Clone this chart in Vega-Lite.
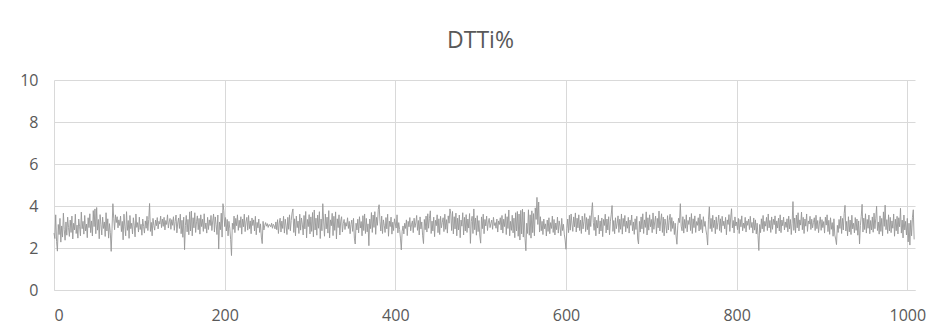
{"$schema":"https://vega.github.io/schema/vega-lite/v6.json","width":861,"height":210,"autosize":{"type":"none"},"padding":{"left":54,"top":80,"right":30,"bottom":44},"background":"white","title":{"text":"DTTi%","font":"Open Sans","fontSize":23,"fontWeight":"normal","color":"#595959","anchor":"middle","frame":"group","baseline":"alphabetic","offset":1,"dx":-4},"config":{"view":{"stroke":null}},"data":{"values":[
{"x":0,"y":2.71},{"x":1,"y":2.45},{"x":2,"y":3.58},{"x":3,"y":2.31},{"x":4,"y":1.85},{"x":5,"y":3.12},{"x":6,"y":2.64},{"x":7,"y":3.41},{"x":8,"y":2.28},{"x":9,"y":3.05},{"x":10,"y":2.52},{"x":11,"y":3.66},{"x":12,"y":2.89},{"x":13,"y":2.37},{"x":14,"y":3.24},{"x":15,"y":2.61},{"x":16,"y":3.47},{"x":17,"y":2.98},{"x":18,"y":2.55},{"x":19,"y":3.33},
{"x":20,"y":2.74},{"x":21,"y":3.52},{"x":22,"y":2.43},{"x":23,"y":3.18},{"x":24,"y":2.86},{"x":25,"y":3.61},{"x":26,"y":2.69},{"x":27,"y":3.09},{"x":28,"y":2.47},{"x":29,"y":3.38},{"x":30,"y":3.01},{"x":31,"y":2.58},{"x":32,"y":3.71},{"x":33,"y":2.92},{"x":34,"y":3.27},{"x":35,"y":2.66},{"x":36,"y":3.55},{"x":37,"y":2.81},{"x":38,"y":3.14},{"x":39,"y":2.49},
{"x":40,"y":3.44},{"x":41,"y":2.97},{"x":42,"y":3.63},{"x":43,"y":2.73},{"x":44,"y":3.29},{"x":45,"y":2.57},{"x":46,"y":3.78},{"x":47,"y":3.02},{"x":48,"y":3.86},{"x":49,"y":2.68},{"x":50,"y":3.93},{"x":51,"y":2.85},{"x":52,"y":3.36},{"x":53,"y":2.44},{"x":54,"y":3.59},{"x":55,"y":3.11},{"x":56,"y":2.62},{"x":57,"y":3.47},{"x":58,"y":2.93},{"x":59,"y":3.24},
{"x":60,"y":2.55},{"x":61,"y":3.68},{"x":62,"y":2.81},{"x":63,"y":3.39},{"x":64,"y":2.47},{"x":65,"y":3.16},{"x":66,"y":2.73},{"x":67,"y":1.84},{"x":68,"y":2.91},{"x":69,"y":4.11},{"x":70,"y":3.42},{"x":71,"y":2.87},{"x":72,"y":3.58},{"x":73,"y":3.21},{"x":74,"y":3.49},{"x":75,"y":2.96},{"x":76,"y":3.34},{"x":77,"y":3.07},{"x":78,"y":3.52},{"x":79,"y":2.78},
{"x":80,"y":3.27},{"x":81,"y":2.39},{"x":82,"y":3.61},{"x":83,"y":3.04},{"x":84,"y":2.58},{"x":85,"y":3.73},{"x":86,"y":2.84},{"x":87,"y":3.31},{"x":88,"y":2.46},{"x":89,"y":3.55},{"x":90,"y":2.92},{"x":91,"y":3.18},{"x":92,"y":2.67},{"x":93,"y":3.44},{"x":94,"y":3.09},{"x":95,"y":2.53},{"x":96,"y":3.62},{"x":97,"y":2.98},{"x":98,"y":3.21},{"x":99,"y":2.76},
{"x":100,"y":3.47},{"x":101,"y":2.88},{"x":102,"y":3.13},{"x":103,"y":2.61},{"x":104,"y":3.38},{"x":105,"y":3.02},{"x":106,"y":2.71},{"x":107,"y":3.29},{"x":108,"y":2.94},{"x":109,"y":3.51},{"x":110,"y":2.83},{"x":111,"y":3.36},{"x":112,"y":4.12},{"x":113,"y":2.79},{"x":114,"y":3.22},{"x":115,"y":2.58},{"x":116,"y":3.41},{"x":117,"y":3.07},{"x":118,"y":2.85},{"x":119,"y":3.33},
{"x":120,"y":3.06},{"x":121,"y":3.45},{"x":122,"y":2.91},{"x":123,"y":3.27},{"x":124,"y":3.14},{"x":125,"y":3.52},{"x":126,"y":2.97},{"x":127,"y":3.38},{"x":128,"y":3.03},{"x":129,"y":3.46},{"x":130,"y":2.86},{"x":131,"y":3.31},{"x":132,"y":3.12},{"x":133,"y":3.58},{"x":134,"y":2.95},{"x":135,"y":3.24},{"x":136,"y":3.41},{"x":137,"y":2.89},{"x":138,"y":3.35},{"x":139,"y":3.08},
{"x":140,"y":3.49},{"x":141,"y":2.84},{"x":142,"y":3.26},{"x":143,"y":3.57},{"x":144,"y":2.72},{"x":145,"y":3.19},{"x":146,"y":3.43},{"x":147,"y":2.93},{"x":148,"y":3.61},{"x":149,"y":2.68},{"x":150,"y":3.32},{"x":151,"y":2.51},{"x":152,"y":3.47},{"x":153,"y":1.92},{"x":154,"y":3.08},{"x":155,"y":3.55},{"x":156,"y":2.77},{"x":157,"y":3.36},{"x":158,"y":2.63},{"x":159,"y":3.72},
{"x":160,"y":2.81},{"x":161,"y":3.76},{"x":162,"y":2.58},{"x":163,"y":3.44},{"x":164,"y":2.96},{"x":165,"y":3.68},{"x":166,"y":2.74},{"x":167,"y":3.25},{"x":168,"y":3.53},{"x":169,"y":2.87},{"x":170,"y":3.41},{"x":171,"y":2.66},{"x":172,"y":3.58},{"x":173,"y":3.02},{"x":174,"y":3.37},{"x":175,"y":2.79},{"x":176,"y":3.63},{"x":177,"y":2.92},{"x":178,"y":3.19},{"x":179,"y":2.71},
{"x":180,"y":3.46},{"x":181,"y":2.88},{"x":182,"y":3.34},{"x":183,"y":3.07},{"x":184,"y":3.55},{"x":185,"y":2.83},{"x":186,"y":3.29},{"x":187,"y":3.62},{"x":188,"y":2.76},{"x":189,"y":3.48},{"x":190,"y":3.11},{"x":191,"y":2.64},{"x":192,"y":3.57},{"x":193,"y":1.95},{"x":194,"y":3.24},{"x":195,"y":2.87},{"x":196,"y":3.66},{"x":197,"y":2.52},{"x":198,"y":4.11},{"x":199,"y":3.78},
{"x":200,"y":3.02},{"x":201,"y":3.45},{"x":202,"y":2.81},{"x":203,"y":3.36},{"x":204,"y":2.58},{"x":205,"y":3.27},{"x":206,"y":2.94},{"x":207,"y":2.41},{"x":208,"y":1.64},{"x":209,"y":3.18},{"x":210,"y":2.89},{"x":211,"y":3.52},{"x":212,"y":2.73},{"x":213,"y":3.41},{"x":214,"y":3.06},{"x":215,"y":3.58},{"x":216,"y":2.84},{"x":217,"y":3.32},{"x":218,"y":2.97},{"x":219,"y":3.49},
{"x":220,"y":2.66},{"x":221,"y":3.38},{"x":222,"y":3.01},{"x":223,"y":3.61},{"x":224,"y":2.78},{"x":225,"y":3.24},{"x":226,"y":3.46},{"x":227,"y":2.85},{"x":228,"y":3.55},{"x":229,"y":2.92},{"x":230,"y":3.29},{"x":231,"y":2.68},{"x":232,"y":3.43},{"x":233,"y":3.07},{"x":234,"y":3.34},{"x":235,"y":2.81},{"x":236,"y":3.51},{"x":237,"y":2.63},{"x":238,"y":3.22},{"x":239,"y":2.96},
{"x":240,"y":3.38},{"x":241,"y":2.74},{"x":242,"y":3.15},{"x":243,"y":2.52},{"x":244,"y":2.21},{"x":245,"y":3.27},{"x":246,"y":2.86},{"x":247,"y":3.08},{"x":248,"y":3.21},{"x":249,"y":3.04},{"x":250,"y":3.16},{"x":251,"y":2.98},{"x":252,"y":3.12},{"x":253,"y":3.09},{"x":254,"y":3.01},{"x":255,"y":3.18},{"x":256,"y":2.94},{"x":257,"y":3.13},{"x":258,"y":3.06},{"x":259,"y":2.91},
{"x":260,"y":3.24},{"x":261,"y":2.87},{"x":262,"y":3.35},{"x":263,"y":2.69},{"x":264,"y":3.19},{"x":265,"y":3.42},{"x":266,"y":2.76},{"x":267,"y":3.28},{"x":268,"y":2.93},{"x":269,"y":3.51},{"x":270,"y":2.71},{"x":271,"y":3.37},{"x":272,"y":3.05},{"x":273,"y":2.64},{"x":274,"y":3.46},{"x":275,"y":2.89},{"x":276,"y":3.58},{"x":277,"y":2.82},{"x":278,"y":3.31},{"x":279,"y":3.67},
{"x":280,"y":3.86},{"x":281,"y":2.74},{"x":282,"y":3.39},{"x":283,"y":2.58},{"x":284,"y":3.52},{"x":285,"y":2.97},{"x":286,"y":3.28},{"x":287,"y":2.69},{"x":288,"y":3.61},{"x":289,"y":2.85},{"x":290,"y":3.43},{"x":291,"y":3.14},{"x":292,"y":2.62},{"x":293,"y":3.55},{"x":294,"y":2.91},{"x":295,"y":3.74},{"x":296,"y":2.48},{"x":297,"y":3.36},{"x":298,"y":3.02},{"x":299,"y":3.59},
{"x":300,"y":2.67},{"x":301,"y":3.48},{"x":302,"y":2.79},{"x":303,"y":3.69},{"x":304,"y":2.53},{"x":305,"y":3.81},{"x":306,"y":2.86},{"x":307,"y":3.42},{"x":308,"y":2.61},{"x":309,"y":3.57},{"x":310,"y":2.94},{"x":311,"y":3.73},{"x":312,"y":2.45},{"x":313,"y":3.38},{"x":314,"y":2.82},{"x":315,"y":4.11},{"x":316,"y":3.24},{"x":317,"y":2.56},{"x":318,"y":3.62},{"x":319,"y":2.91},
{"x":320,"y":3.47},{"x":321,"y":2.71},{"x":322,"y":3.78},{"x":323,"y":2.48},{"x":324,"y":3.34},{"x":325,"y":3.06},{"x":326,"y":3.65},{"x":327,"y":2.59},{"x":328,"y":3.51},{"x":329,"y":2.84},{"x":330,"y":3.72},{"x":331,"y":2.43},{"x":332,"y":3.39},{"x":333,"y":2.97},{"x":334,"y":3.58},{"x":335,"y":2.62},{"x":336,"y":3.28},{"x":337,"y":3.49},{"x":338,"y":2.76},{"x":339,"y":3.17},
{"x":340,"y":3.36},{"x":341,"y":2.88},{"x":342,"y":3.21},{"x":343,"y":3.04},{"x":344,"y":3.44},{"x":345,"y":2.93},{"x":346,"y":3.27},{"x":347,"y":2.68},{"x":348,"y":3.12},{"x":349,"y":3.33},{"x":350,"y":2.79},{"x":351,"y":3.41},{"x":352,"y":2.47},{"x":353,"y":2.19},{"x":354,"y":3.18},{"x":355,"y":2.86},{"x":356,"y":3.37},{"x":357,"y":2.72},{"x":358,"y":3.49},{"x":359,"y":2.95},
{"x":360,"y":3.26},{"x":361,"y":2.58},{"x":362,"y":3.54},{"x":363,"y":2.83},{"x":364,"y":3.62},{"x":365,"y":2.69},{"x":366,"y":3.41},{"x":367,"y":2.77},{"x":368,"y":3.15},{"x":369,"y":2.11},{"x":370,"y":3.38},{"x":371,"y":2.92},{"x":372,"y":3.69},{"x":373,"y":2.74},{"x":374,"y":3.57},{"x":375,"y":2.98},{"x":376,"y":3.73},{"x":377,"y":2.65},{"x":378,"y":3.46},{"x":379,"y":3.08},
{"x":380,"y":3.84},{"x":381,"y":4.06},{"x":382,"y":3.27},{"x":383,"y":2.81},{"x":384,"y":3.52},{"x":385,"y":2.69},{"x":386,"y":3.34},{"x":387,"y":3.08},{"x":388,"y":2.74},{"x":389,"y":3.45},{"x":390,"y":2.91},{"x":391,"y":3.61},{"x":392,"y":2.56},{"x":393,"y":3.28},{"x":394,"y":3.02},{"x":395,"y":3.47},{"x":396,"y":2.66},{"x":397,"y":3.23},{"x":398,"y":2.83},{"x":399,"y":3.39},
{"x":400,"y":3.14},{"x":401,"y":2.95},{"x":402,"y":3.58},{"x":403,"y":2.72},{"x":404,"y":3.21},{"x":405,"y":2.88},{"x":406,"y":2.47},{"x":407,"y":1.91},{"x":408,"y":2.79},{"x":409,"y":3.05},{"x":410,"y":2.67},{"x":411,"y":3.18},{"x":412,"y":2.93},{"x":413,"y":3.34},{"x":414,"y":2.59},{"x":415,"y":3.27},{"x":416,"y":3.01},{"x":417,"y":3.45},{"x":418,"y":2.82},{"x":419,"y":3.13},
{"x":420,"y":3.29},{"x":421,"y":2.73},{"x":422,"y":3.42},{"x":423,"y":2.98},{"x":424,"y":3.19},{"x":425,"y":3.55},{"x":426,"y":2.84},{"x":427,"y":3.31},{"x":428,"y":2.62},{"x":429,"y":3.48},{"x":430,"y":2.91},{"x":431,"y":3.24},{"x":432,"y":2.58},{"x":433,"y":2.21},{"x":434,"y":3.36},{"x":435,"y":2.87},{"x":436,"y":3.52},{"x":437,"y":2.76},{"x":438,"y":3.63},{"x":439,"y":2.94},
{"x":440,"y":3.41},{"x":441,"y":3.77},{"x":442,"y":2.69},{"x":443,"y":3.28},{"x":444,"y":2.81},{"x":445,"y":3.47},{"x":446,"y":2.54},{"x":447,"y":3.32},{"x":448,"y":3.06},{"x":449,"y":3.58},{"x":450,"y":2.73},{"x":451,"y":3.39},{"x":452,"y":2.64},{"x":453,"y":3.51},{"x":454,"y":2.96},{"x":455,"y":3.22},{"x":456,"y":3.44},{"x":457,"y":2.78},{"x":458,"y":3.61},{"x":459,"y":2.89},
{"x":460,"y":3.35},{"x":461,"y":2.71},{"x":462,"y":3.53},{"x":463,"y":3.18},{"x":464,"y":3.86},{"x":465,"y":3.62},{"x":466,"y":2.83},{"x":467,"y":3.74},{"x":468,"y":2.67},{"x":469,"y":3.49},{"x":470,"y":2.91},{"x":471,"y":3.66},{"x":472,"y":2.58},{"x":473,"y":3.42},{"x":474,"y":2.86},{"x":475,"y":3.57},{"x":476,"y":2.49},{"x":477,"y":3.33},{"x":478,"y":3.04},{"x":479,"y":3.68},
{"x":480,"y":2.62},{"x":481,"y":3.46},{"x":482,"y":2.81},{"x":483,"y":3.59},{"x":484,"y":2.74},{"x":485,"y":3.38},{"x":486,"y":2.95},{"x":487,"y":3.64},{"x":488,"y":2.22},{"x":489,"y":3.27},{"x":490,"y":3.51},{"x":491,"y":2.69},{"x":492,"y":3.86},{"x":493,"y":2.87},{"x":494,"y":3.43},{"x":495,"y":2.61},{"x":496,"y":3.54},{"x":497,"y":2.78},{"x":498,"y":3.31},{"x":499,"y":2.57},
{"x":500,"y":2.23},{"x":501,"y":3.48},{"x":502,"y":2.92},{"x":503,"y":3.61},{"x":504,"y":2.68},{"x":505,"y":3.36},{"x":506,"y":3.05},{"x":507,"y":3.52},{"x":508,"y":2.83},{"x":509,"y":3.24},{"x":510,"y":3.41},{"x":511,"y":2.97},{"x":512,"y":3.18},{"x":513,"y":3.33},{"x":514,"y":2.89},{"x":515,"y":3.46},{"x":516,"y":3.07},{"x":517,"y":3.21},{"x":518,"y":2.94},{"x":519,"y":3.38},
{"x":520,"y":2.76},{"x":521,"y":3.29},{"x":522,"y":3.12},{"x":523,"y":3.44},{"x":524,"y":2.86},{"x":525,"y":3.55},{"x":526,"y":2.71},{"x":527,"y":3.37},{"x":528,"y":3.02},{"x":529,"y":3.63},{"x":530,"y":2.64},{"x":531,"y":3.49},{"x":532,"y":2.93},{"x":533,"y":3.81},{"x":534,"y":2.58},{"x":535,"y":3.27},{"x":536,"y":2.84},{"x":537,"y":3.56},{"x":538,"y":2.72},{"x":539,"y":3.42},
{"x":540,"y":2.49},{"x":541,"y":3.68},{"x":542,"y":2.81},{"x":543,"y":3.74},{"x":544,"y":2.56},{"x":545,"y":3.62},{"x":546,"y":2.38},{"x":547,"y":3.79},{"x":548,"y":2.67},{"x":549,"y":3.85},{"x":550,"y":2.52},{"x":551,"y":3.71},{"x":552,"y":2.44},{"x":553,"y":1.87},{"x":554,"y":3.18},{"x":555,"y":2.69},{"x":556,"y":3.82},{"x":557,"y":2.61},{"x":558,"y":3.58},{"x":559,"y":2.47},
{"x":560,"y":3.77},{"x":561,"y":2.73},{"x":562,"y":3.64},{"x":563,"y":2.58},{"x":564,"y":3.91},{"x":565,"y":3.36},{"x":566,"y":4.41},{"x":567,"y":3.12},{"x":568,"y":4.19},{"x":569,"y":2.76},{"x":570,"y":3.49},{"x":571,"y":2.82},{"x":572,"y":3.27},{"x":573,"y":2.64},{"x":574,"y":3.38},{"x":575,"y":2.91},{"x":576,"y":3.15},{"x":577,"y":2.57},{"x":578,"y":3.33},{"x":579,"y":2.79},
{"x":580,"y":3.44},{"x":581,"y":2.68},{"x":582,"y":3.21},{"x":583,"y":2.93},{"x":584,"y":3.52},{"x":585,"y":2.74},{"x":586,"y":3.36},{"x":587,"y":2.62},{"x":588,"y":3.19},{"x":589,"y":2.87},{"x":590,"y":3.47},{"x":591,"y":2.71},{"x":592,"y":3.29},{"x":593,"y":3.04},{"x":594,"y":2.58},{"x":595,"y":3.41},{"x":596,"y":2.83},{"x":597,"y":3.13},{"x":598,"y":2.66},{"x":599,"y":2.38},
{"x":600,"y":1.94},{"x":601,"y":2.92},{"x":602,"y":3.38},{"x":603,"y":2.73},{"x":604,"y":3.56},{"x":605,"y":2.85},{"x":606,"y":3.62},{"x":607,"y":3.14},{"x":608,"y":2.79},{"x":609,"y":3.48},{"x":610,"y":3.01},{"x":611,"y":3.67},{"x":612,"y":2.76},{"x":613,"y":3.42},{"x":614,"y":2.96},{"x":615,"y":3.58},{"x":616,"y":2.83},{"x":617,"y":3.33},{"x":618,"y":2.69},{"x":619,"y":3.52},
{"x":620,"y":2.91},{"x":621,"y":3.27},{"x":622,"y":3.64},{"x":623,"y":2.78},{"x":624,"y":3.45},{"x":625,"y":2.87},{"x":626,"y":3.39},{"x":627,"y":2.63},{"x":628,"y":3.54},{"x":629,"y":3.02},{"x":630,"y":3.71},{"x":631,"y":4.16},{"x":632,"y":3.21},{"x":633,"y":2.84},{"x":634,"y":3.47},{"x":635,"y":2.58},{"x":636,"y":3.32},{"x":637,"y":2.95},{"x":638,"y":3.56},{"x":639,"y":2.67},
{"x":640,"y":3.29},{"x":641,"y":2.81},{"x":642,"y":3.43},{"x":643,"y":2.54},{"x":644,"y":3.36},{"x":645,"y":3.07},{"x":646,"y":3.61},{"x":647,"y":2.72},{"x":648,"y":3.38},{"x":649,"y":2.86},{"x":650,"y":3.49},{"x":651,"y":2.63},{"x":652,"y":3.25},{"x":653,"y":3.58},{"x":654,"y":4.02},{"x":655,"y":2.79},{"x":656,"y":3.31},{"x":657,"y":2.68},{"x":658,"y":3.44},{"x":659,"y":2.92},
{"x":660,"y":3.18},{"x":661,"y":3.53},{"x":662,"y":2.74},{"x":663,"y":3.37},{"x":664,"y":2.89},{"x":665,"y":3.62},{"x":666,"y":2.66},{"x":667,"y":3.41},{"x":668,"y":3.03},{"x":669,"y":3.55},{"x":670,"y":2.77},{"x":671,"y":3.28},{"x":672,"y":2.94},{"x":673,"y":3.46},{"x":674,"y":2.71},{"x":675,"y":3.33},{"x":676,"y":3.08},{"x":677,"y":3.57},{"x":678,"y":2.82},{"x":679,"y":3.24},
{"x":680,"y":2.65},{"x":681,"y":3.39},{"x":682,"y":2.88},{"x":683,"y":3.51},{"x":684,"y":2.43},{"x":685,"y":2.19},{"x":686,"y":3.27},{"x":687,"y":2.76},{"x":688,"y":3.48},{"x":689,"y":2.91},{"x":690,"y":3.63},{"x":691,"y":2.69},{"x":692,"y":3.34},{"x":693,"y":2.98},{"x":694,"y":3.72},{"x":695,"y":2.62},{"x":696,"y":3.44},{"x":697,"y":2.85},{"x":698,"y":3.58},{"x":699,"y":3.01},
{"x":700,"y":3.36},{"x":701,"y":2.73},{"x":702,"y":3.67},{"x":703,"y":2.89},{"x":704,"y":3.24},{"x":705,"y":3.52},{"x":706,"y":2.67},{"x":707,"y":3.41},{"x":708,"y":2.96},{"x":709,"y":3.76},{"x":710,"y":2.81},{"x":711,"y":3.29},{"x":712,"y":3.63},{"x":713,"y":2.74},{"x":714,"y":3.47},{"x":715,"y":2.58},{"x":716,"y":3.38},{"x":717,"y":3.09},{"x":718,"y":2.71},{"x":719,"y":3.54},
{"x":720,"y":2.86},{"x":721,"y":3.32},{"x":722,"y":3.61},{"x":723,"y":2.79},{"x":724,"y":3.45},{"x":725,"y":2.93},{"x":726,"y":3.27},{"x":727,"y":2.64},{"x":728,"y":3.18},{"x":729,"y":2.57},{"x":730,"y":2.18},{"x":731,"y":3.06},{"x":732,"y":3.42},{"x":733,"y":3.21},{"x":734,"y":4.11},{"x":735,"y":3.04},{"x":736,"y":2.82},{"x":737,"y":3.49},{"x":738,"y":2.71},{"x":739,"y":3.36},
{"x":740,"y":2.94},{"x":741,"y":3.58},{"x":742,"y":2.77},{"x":743,"y":3.31},{"x":744,"y":3.12},{"x":745,"y":3.47},{"x":746,"y":2.83},{"x":747,"y":3.64},{"x":748,"y":2.69},{"x":749,"y":3.39},{"x":750,"y":2.97},{"x":751,"y":3.53},{"x":752,"y":2.74},{"x":753,"y":3.26},{"x":754,"y":3.08},{"x":755,"y":3.44},{"x":756,"y":2.81},{"x":757,"y":3.62},{"x":758,"y":2.88},{"x":759,"y":3.35},
{"x":760,"y":2.72},{"x":761,"y":3.49},{"x":762,"y":3.03},{"x":763,"y":3.27},{"x":764,"y":2.86},{"x":765,"y":2.61},{"x":766,"y":2.14},{"x":767,"y":3.37},{"x":768,"y":3.96},{"x":769,"y":2.92},{"x":770,"y":3.41},{"x":771,"y":2.78},{"x":772,"y":3.56},{"x":773,"y":2.97},{"x":774,"y":3.33},{"x":775,"y":2.68},{"x":776,"y":3.48},{"x":777,"y":2.89},{"x":778,"y":3.22},{"x":779,"y":3.57},
{"x":780,"y":2.83},{"x":781,"y":3.39},{"x":782,"y":2.74},{"x":783,"y":3.51},{"x":784,"y":3.06},{"x":785,"y":3.28},{"x":786,"y":2.91},{"x":787,"y":3.46},{"x":788,"y":2.63},{"x":789,"y":3.34},{"x":790,"y":3.12},{"x":791,"y":3.59},{"x":792,"y":2.79},{"x":793,"y":3.43},{"x":794,"y":3.87},{"x":795,"y":2.96},{"x":796,"y":3.31},{"x":797,"y":2.72},{"x":798,"y":3.48},{"x":799,"y":3.05},
{"x":800,"y":3.24},{"x":801,"y":2.87},{"x":802,"y":3.41},{"x":803,"y":2.69},{"x":804,"y":3.36},{"x":805,"y":3.01},{"x":806,"y":3.53},{"x":807,"y":2.82},{"x":808,"y":3.19},{"x":809,"y":2.94},{"x":810,"y":3.46},{"x":811,"y":2.76},{"x":812,"y":3.29},{"x":813,"y":3.08},{"x":814,"y":3.38},{"x":815,"y":2.88},{"x":816,"y":3.51},{"x":817,"y":2.97},{"x":818,"y":3.22},{"x":819,"y":2.71},
{"x":820,"y":3.43},{"x":821,"y":2.85},{"x":822,"y":3.34},{"x":823,"y":2.67},{"x":824,"y":3.18},{"x":825,"y":2.59},{"x":826,"y":1.88},{"x":827,"y":3.12},{"x":828,"y":2.73},{"x":829,"y":3.39},{"x":830,"y":2.91},{"x":831,"y":3.55},{"x":832,"y":2.78},{"x":833,"y":3.27},{"x":834,"y":3.04},{"x":835,"y":3.46},{"x":836,"y":2.83},{"x":837,"y":3.62},{"x":838,"y":2.96},{"x":839,"y":3.31},
{"x":840,"y":2.74},{"x":841,"y":3.48},{"x":842,"y":2.89},{"x":843,"y":3.37},{"x":844,"y":3.11},{"x":845,"y":3.53},{"x":846,"y":2.68},{"x":847,"y":3.29},{"x":848,"y":2.95},{"x":849,"y":3.42},{"x":850,"y":2.81},{"x":851,"y":3.58},{"x":852,"y":2.73},{"x":853,"y":3.33},{"x":854,"y":3.06},{"x":855,"y":3.47},{"x":856,"y":2.86},{"x":857,"y":3.24},{"x":858,"y":2.98},{"x":859,"y":3.39},
{"x":860,"y":2.77},{"x":861,"y":3.52},{"x":862,"y":2.91},{"x":863,"y":3.36},{"x":864,"y":2.64},{"x":865,"y":3.18},{"x":866,"y":4.21},{"x":867,"y":2.84},{"x":868,"y":3.43},{"x":869,"y":2.72},{"x":870,"y":3.57},{"x":871,"y":2.96},{"x":872,"y":3.68},{"x":873,"y":2.81},{"x":874,"y":3.34},{"x":875,"y":3.09},{"x":876,"y":3.71},{"x":877,"y":2.87},{"x":878,"y":3.46},{"x":879,"y":2.69},
{"x":880,"y":3.38},{"x":881,"y":3.04},{"x":882,"y":3.62},{"x":883,"y":2.79},{"x":884,"y":3.29},{"x":885,"y":3.14},{"x":886,"y":3.51},{"x":887,"y":2.88},{"x":888,"y":3.37},{"x":889,"y":2.96},{"x":890,"y":3.22},{"x":891,"y":3.44},{"x":892,"y":2.83},{"x":893,"y":3.56},{"x":894,"y":2.92},{"x":895,"y":3.31},{"x":896,"y":2.73},{"x":897,"y":3.19},{"x":898,"y":3.48},{"x":899,"y":2.84},
{"x":900,"y":3.35},{"x":901,"y":2.97},{"x":902,"y":3.26},{"x":903,"y":2.71},{"x":904,"y":3.47},{"x":905,"y":3.09},{"x":906,"y":3.58},{"x":907,"y":2.78},{"x":908,"y":3.32},{"x":909,"y":2.65},{"x":910,"y":3.44},{"x":911,"y":2.89},{"x":912,"y":3.21},{"x":913,"y":2.56},{"x":914,"y":3.39},{"x":915,"y":2.62},{"x":916,"y":2.43},{"x":917,"y":2.16},{"x":918,"y":3.08},{"x":919,"y":2.74},
{"x":920,"y":3.36},{"x":921,"y":2.93},{"x":922,"y":3.52},{"x":923,"y":2.69},{"x":924,"y":3.41},{"x":925,"y":2.86},{"x":926,"y":3.64},{"x":927,"y":4.03},{"x":928,"y":2.81},{"x":929,"y":3.27},{"x":930,"y":2.58},{"x":931,"y":3.49},{"x":932,"y":2.77},{"x":933,"y":3.33},{"x":934,"y":2.64},{"x":935,"y":3.56},{"x":936,"y":2.91},{"x":937,"y":3.18},{"x":938,"y":2.72},{"x":939,"y":3.45},
{"x":940,"y":2.84},{"x":941,"y":3.38},{"x":942,"y":2.61},{"x":943,"y":3.29},{"x":944,"y":2.19},{"x":945,"y":3.07},{"x":946,"y":3.51},{"x":947,"y":4.08},{"x":948,"y":2.76},{"x":949,"y":3.42},{"x":950,"y":2.88},{"x":951,"y":3.63},{"x":952,"y":2.71},{"x":953,"y":3.36},{"x":954,"y":2.94},{"x":955,"y":3.57},{"x":956,"y":2.68},{"x":957,"y":3.31},{"x":958,"y":2.86},{"x":959,"y":3.48},
{"x":960,"y":2.75},{"x":961,"y":3.66},{"x":962,"y":2.92},{"x":963,"y":3.39},{"x":964,"y":3.99},{"x":965,"y":2.83},{"x":966,"y":3.24},{"x":967,"y":2.66},{"x":968,"y":3.53},{"x":969,"y":2.79},{"x":970,"y":3.41},{"x":971,"y":2.58},{"x":972,"y":3.72},{"x":973,"y":3.03},{"x":974,"y":4.04},{"x":975,"y":2.87},{"x":976,"y":3.35},{"x":977,"y":2.69},{"x":978,"y":3.58},{"x":979,"y":2.81},
{"x":980,"y":3.46},{"x":981,"y":2.73},{"x":982,"y":3.29},{"x":983,"y":2.94},{"x":984,"y":3.62},{"x":985,"y":2.56},{"x":986,"y":3.37},{"x":987,"y":2.82},{"x":988,"y":3.51},{"x":989,"y":2.67},{"x":990,"y":3.44},{"x":991,"y":3.01},{"x":992,"y":3.89},{"x":993,"y":2.71},{"x":994,"y":3.33},{"x":995,"y":2.48},{"x":996,"y":3.57},{"x":997,"y":2.86},{"x":998,"y":3.27},{"x":999,"y":2.62},
{"x":1000,"y":3.41},{"x":1001,"y":2.29},{"x":1002,"y":3.18},{"x":1003,"y":2.14},{"x":1004,"y":3.32},{"x":1005,"y":2.58},{"x":1006,"y":3.46},{"x":1007,"y":3.82},{"x":1008,"y":2.41}
]},"mark":{"type":"line","color":"#969696","strokeWidth":0.9},"encoding":{"x":{"field":"x","type":"quantitative","scale":{"domain":[0,1009],"nice":false,"zero":false},"axis":{"values":[0,200,400,600,800,1000],"format":"d","title":null,"grid":true,"gridColor":"#d9d9d9","domainColor":"#d9d9d9","ticks":false,"labelFont":"Open Sans","labelFontSize":16,"labelColor":"#595959","labelPadding":17}},"y":{"field":"y","type":"quantitative","scale":{"domain":[0,10],"nice":false},"axis":{"values":[0,2,4,6,8,10],"title":null,"grid":true,"gridColor":"#d9d9d9","domain":false,"ticks":false,"labelFont":"Open Sans","labelFontSize":16,"labelColor":"#595959","labelPadding":16}}}}
